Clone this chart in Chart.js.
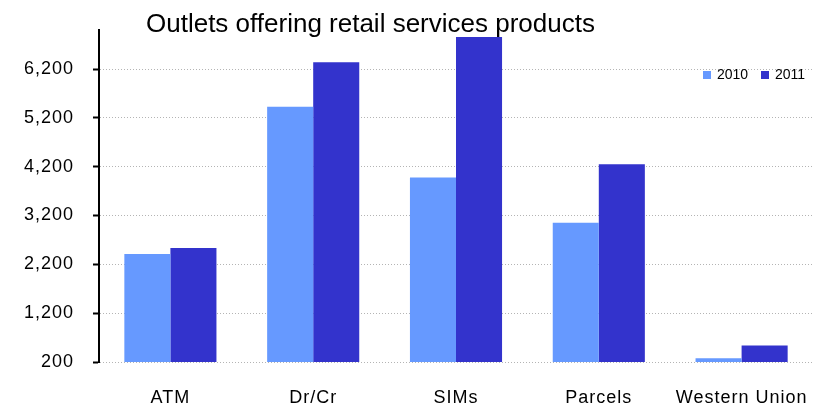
<!DOCTYPE html>
<html>
<head>
<meta charset="utf-8">
<script src="https://cdn.jsdelivr.net/npm/chart.js@4/dist/chart.umd.min.js"></script>
<style>
  html, body { margin: 0; padding: 0; background: #fff; }
  #wrap { width: 820px; height: 406px; }
</style>
</head>
<body>
<div id="wrap"><canvas id="outlets"></canvas></div>
<script>
// Outlets offering each retail service, by year
const categories = ['ATM', 'Dr/Cr', 'SIMs', 'Parcels', 'Western Union'];
const outlets2010 = [2410, 5430, 3980, 3050, 275];
const outlets2011 = [2535, 6340, 6855, 4250, 540];
const yearLabels = ['2010', '2011'];
const yearColors = ['#6699FF', '#3333CC'];
const yTickValues = [200, 1200, 2200, 3200, 4200, 5200, 6200];

const FONT = '"Liberation Sans", Arial, sans-serif';
const titleText = 'Outlets offering retail services products';

// Axis labels are drawn a little spread out
const axisSpacing = {
    id: 'axisSpacing',
    beforeDraw(chart) { chart.ctx.letterSpacing = '1px'; },
    afterDraw(chart) { chart.ctx.letterSpacing = '0px'; }
};

// Title sits off-centre above the plot
const titlePlugin = {
    id: 'offsetTitle',
    afterDraw(chart) {
        const ctx = chart.ctx;
        ctx.save();
        ctx.font = '26px ' + FONT;
        ctx.fillStyle = '#000';
        ctx.textBaseline = 'alphabetic';
        ctx.textAlign = 'left';
        ctx.fillText(titleText, 146, 31.5);
        ctx.restore();
    }
};

// Small legend tucked inside the top-right of the plot
const insideLegend = {
    id: 'insideLegend',
    afterDraw(chart) {
        const ctx = chart.ctx;
        const spots = [703, 761];
        ctx.save();
        ctx.font = '14px ' + FONT;
        ctx.textBaseline = 'middle';
        chart.data.datasets.forEach((ds, i) => {
            ctx.fillStyle = ds.backgroundColor;
            ctx.fillRect(spots[i], 71, 8, 8);
            ctx.fillStyle = '#000';
            ctx.fillText(ds.label, spots[i] + 14, 75.5);
        });
        ctx.restore();
    }
};

new Chart(document.getElementById('outlets'), {
    type: 'bar',
    data: {
        labels: categories,
        datasets: [
            { label: yearLabels[0], data: outlets2010, backgroundColor: yearColors[0] },
            { label: yearLabels[1], data: outlets2011, backgroundColor: yearColors[1] }
        ]
    },
    options: {
        responsive: true,
        maintainAspectRatio: false,
        animation: false,
        layout: { padding: { top: 30, right: 7, bottom: 0, left: 0 } },
        datasets: {
            bar: { categoryPercentage: 0.645, barPercentage: 1.0, borderWidth: 0 }
        },
        plugins: {
            legend: { display: false },
            tooltip: { enabled: false }
        },
        scales: {
            x: {
                grid: { display: false, drawTicks: false },
                border: { display: false },
                ticks: { color: '#000', font: { family: FONT, size: 18 }, padding: 25 },
                afterFit: (scale) => {
                    scale.height = 44;
                    scale.paddingLeft = 0;
                    scale.paddingRight = 0;
                }
            },
            y: {
                min: 200,
                max: 7000,
                grid: {
                    color: '#b4b4b4',
                    lineWidth: 1,
                    tickLength: 6,
                    tickColor: '#000',
                    tickWidth: 2
                },
                border: { display: true, color: '#000', width: 2, dash: [1, 2] },
                ticks: {
                    color: '#000',
                    padding: 19,
                    font: { family: FONT, size: 18 },
                    callback: (v) => v.toLocaleString('en-US')
                },
                afterBuildTicks: (scale) => {
                    scale.ticks = yTickValues.map(v => ({ value: v }));
                },
                afterFit: (scale) => { scale.width = 99; }
            }
        }
    },
    plugins: [axisSpacing, titlePlugin, insideLegend]
});
</script>
</body>
</html>
